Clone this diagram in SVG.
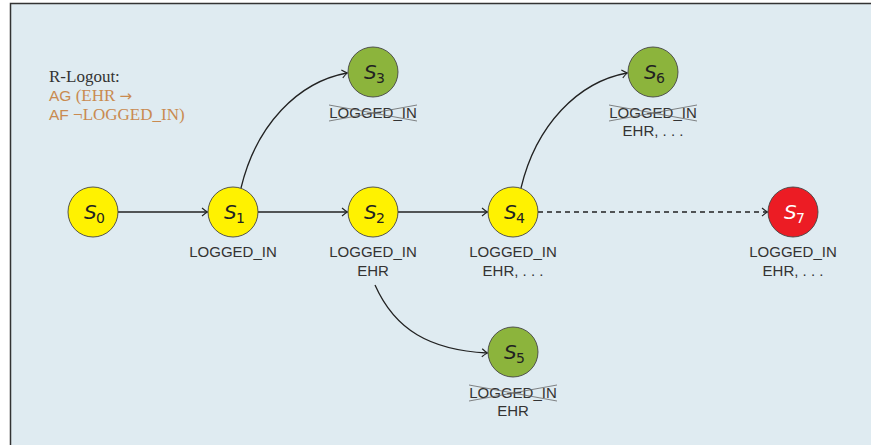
<svg xmlns="http://www.w3.org/2000/svg" width="871" height="445" viewBox="0 0 871 445">
<style>
.st{stroke:#444;stroke-width:0.9}
.y{fill:#fff200}
.g{fill:#8cb43c}
.r{fill:#ec1c24}
.S{font-family:"DejaVu Sans","Liberation Sans",sans-serif;font-style:italic;font-size:20px;fill:#222}
.sub{font-family:"DejaVu Sans","Liberation Sans",sans-serif;font-size:14px;fill:#222}
.w{fill:#fff}
.lab{font-family:"Liberation Sans",Arial,sans-serif;font-size:15px;fill:#333;text-anchor:middle}
.ser{font-family:"Liberation Serif","Times New Roman",serif;font-size:17px}
.sans{font-family:"Liberation Sans",Arial,sans-serif;font-size:15.5px}
.or{fill:#c98a50}
.e{fill:none;stroke:#222;stroke-width:1.3}
.x{stroke:#666;stroke-width:0.8;fill:none}
</style>
<defs>
<marker id="ar" viewBox="-6 -5 8 10" markerWidth="8" markerHeight="10" refX="0" refY="0" orient="auto" markerUnits="userSpaceOnUse">
<path d="M-5,-4 Q-1.5,-1 0.5,0 Q-1.5,1 -5,4" fill="none" stroke="#222" stroke-width="1.1"/>
</marker>
</defs>
<rect x="10.5" y="3.5" width="870" height="450" fill="#dfebf1" stroke="#333" stroke-width="1.5"/>
<g id="formula">
<text x="49" y="82" class="ser" fill="#333">R-Logout:</text>
<text x="49" y="101" class="or"><tspan class="sans">AG</tspan><tspan class="ser"> (EHR </tspan><tspan font-family="DejaVu Sans,sans-serif" font-size="15px">→</tspan></text>
<text x="49" y="120" class="or"><tspan class="sans">AF</tspan><tspan class="ser"> ¬LOGGED_IN)</tspan></text>
</g>
<g id="edges">
<path class="e" d="M118,212 L207,212" marker-end="url(#ar)"/>
<path class="e" d="M258,212 L347,212" marker-end="url(#ar)"/>
<path class="e" d="M398,212 L487,212" marker-end="url(#ar)"/>
<path class="e" d="M538,212 L767,212" stroke-dasharray="5,4" marker-end="url(#ar)"/>
<path class="e" d="M241,188 C256,125 298,82 347,73" marker-end="url(#ar)"/>
<path class="e" d="M521,188 C536,125 578,82 627,73" marker-end="url(#ar)"/>
<path class="e" d="M375,285 C395,330 430,350 487,353" marker-end="url(#ar)"/>
</g>
<g id="S0">
<circle cx="93" cy="212" r="25" class="y st"/>
<text x="84" y="219" class="S">S</text><text x="96" y="223" class="sub">0</text>
</g>
<g id="S1">
<circle cx="233" cy="212" r="25" class="y st"/>
<text x="224" y="219" class="S">S</text><text x="236" y="223" class="sub">1</text>
<text x="233" y="257" class="lab">LOGGED_IN</text>
</g>
<g id="S2">
<circle cx="373" cy="212" r="25" class="y st"/>
<text x="364" y="219" class="S">S</text><text x="376" y="223" class="sub">2</text>
<text x="373" y="257" class="lab">LOGGED_IN</text>
<text x="373" y="276" class="lab">EHR</text>
</g>
<g id="S4">
<circle cx="513" cy="212" r="25" class="y st"/>
<text x="504" y="219" class="S">S</text><text x="516" y="223" class="sub">4</text>
<text x="513" y="257" class="lab">LOGGED_IN</text>
<text x="513" y="276" class="lab">EHR, . . .</text>
</g>
<g id="S7">
<circle cx="793" cy="212" r="25" class="r st"/>
<text x="784" y="219" class="S w">S</text><text x="796" y="223" class="sub w">7</text>
<text x="793" y="257" class="lab">LOGGED_IN</text>
<text x="793" y="276" class="lab">EHR, . . .</text>
</g>
<g id="S3">
<circle cx="373" cy="72" r="25" class="g st"/>
<text x="364" y="79" class="S">S</text><text x="376" y="83" class="sub">3</text>
<text x="373" y="118" class="lab">LOGGED_IN</text>
<path class="x" d="M329,105 L417,121 M329,121 L417,105"/>
</g>
<g id="S6">
<circle cx="653" cy="72" r="25" class="g st"/>
<text x="644" y="79" class="S">S</text><text x="656" y="83" class="sub">6</text>
<text x="653" y="118" class="lab">LOGGED_IN</text>
<path class="x" d="M609,105 L697,121 M609,121 L697,105"/>
<text x="653" y="136" class="lab">EHR, . . .</text>
</g>
<g id="S5">
<circle cx="513" cy="352" r="25" class="g st"/>
<text x="504" y="359" class="S">S</text><text x="516" y="363" class="sub">5</text>
<text x="513" y="398" class="lab">LOGGED_IN</text>
<path class="x" d="M469,385 L557,401 M469,401 L557,385"/>
<text x="513" y="416" class="lab">EHR</text>
</g>
</svg>
